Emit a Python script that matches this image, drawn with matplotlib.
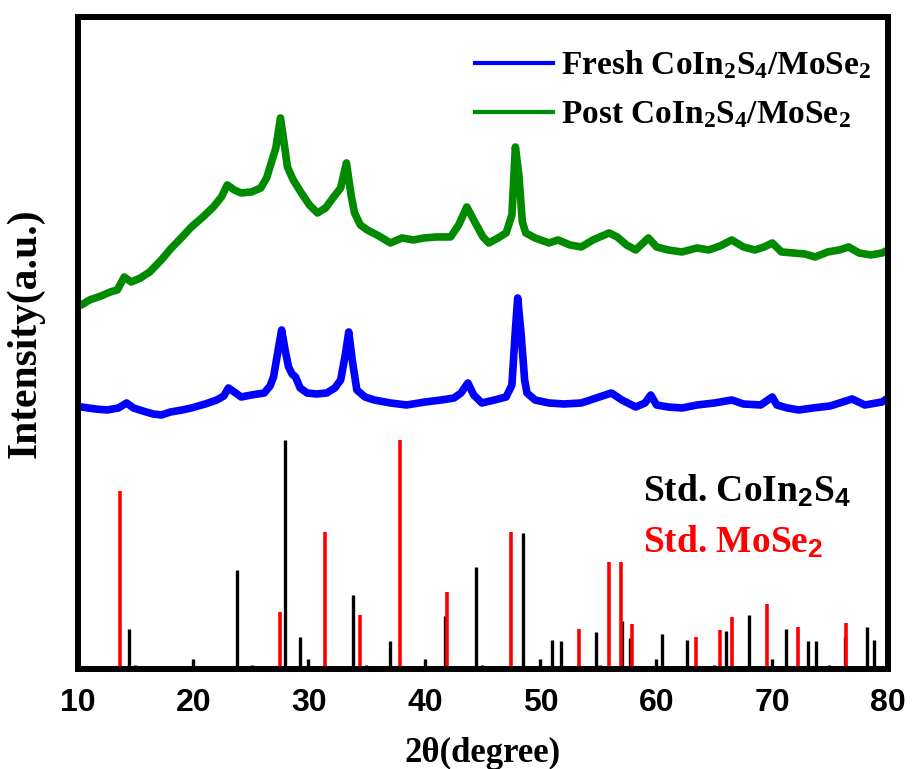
import matplotlib
matplotlib.use("Agg")
import matplotlib.pyplot as plt

# ── data (intensity in arbitrary units) ──────────────────────────────────
fresh_2theta = [10.0, 10.3, 11.5, 12.5, 13.5, 14.2, 14.8, 15.6, 16.5, 17.2, 18.0, 19.0,
                19.8, 21.0, 22.0, 22.6, 23.0, 23.5, 24.1, 25.0, 26.1, 26.6, 26.9, 27.3,
                27.6, 27.9, 28.2, 28.5, 28.8, 29.2, 29.8, 30.6, 31.5, 32.2, 32.7, 33.1,
                33.4, 33.7, 34.1, 34.8, 35.6, 37.0, 38.4, 40.0, 41.4, 42.5, 43.1, 43.7,
                44.2, 44.9, 46.0, 47.0, 47.5, 47.8, 48.0, 48.3, 48.6, 48.8, 49.5, 50.7,
                52.0, 53.5, 54.8, 56.1, 57.0, 58.2, 59.0, 59.5, 60.0, 61.0, 62.2, 63.5,
                65.0, 66.5, 67.5, 69.0, 70.0, 70.4, 71.3, 72.3, 73.5, 75.0, 76.9, 78.0,
                79.5, 80.0]
fresh_int = [262, 262, 260, 259, 261, 266, 261, 258, 255, 254, 257, 259,
             261, 265, 269, 273, 281, 277, 272, 274, 276, 283, 292, 319,
             339, 319, 302, 295, 292, 281, 276, 275, 276, 281, 289, 314,
             337, 309, 279, 272, 269, 266, 264, 267, 269, 271, 276, 286,
             274, 266, 269, 272, 284, 339, 371, 334, 289, 276, 269, 266,
             265, 266, 271, 276, 269, 262, 266, 274, 264, 262, 261, 264,
             266, 269, 265, 264, 272, 264, 261, 259, 261, 263, 270, 264,
             267, 271]

post_2theta = [10.0, 10.3, 11.0, 12.0, 12.8, 13.4, 14.0, 14.6, 15.4, 16.2, 17.2, 18.0,
               19.0, 19.8, 20.8, 21.7, 22.4, 22.9, 23.5, 24.1, 25.0, 25.8, 26.3, 26.7,
               27.1, 27.5, 27.9, 28.1, 28.6, 29.3, 30.0, 30.7, 31.4, 32.1, 32.7, 33.2,
               33.6, 33.9, 34.4, 35.0, 36.0, 37.0, 38.0, 39.0, 39.9, 41.0, 42.2, 42.9,
               43.6, 44.2, 45.0, 45.5, 46.3, 47.0, 47.5, 47.8, 48.1, 48.4, 48.7, 49.5,
               50.7, 51.5, 52.5, 53.5, 54.5, 55.3, 55.9, 56.6, 57.4, 58.2, 59.3, 60.0,
               61.0, 62.2, 63.5, 64.5, 65.5, 66.5, 67.5, 68.5, 69.3, 70.0, 70.8, 71.8,
               72.8, 73.7, 74.8, 75.8, 76.6, 77.5, 78.5, 79.5, 80.0]
post_int = [364, 364, 369, 373, 377, 379, 392, 387, 391, 397, 409, 420,
            432, 442, 452, 462, 472, 484, 479, 476, 477, 481, 491, 506,
            521, 551, 519, 502, 489, 476, 464, 456, 461, 472, 481, 506,
            474, 456, 444, 439, 433, 426, 431, 429, 431, 432, 432, 444,
            462, 449, 432, 426, 431, 436, 454, 522, 494, 447, 436, 431,
            426, 429, 424, 422, 429, 433, 436, 432, 424, 419, 431, 422,
            419, 417, 421, 419, 423, 429, 422, 419, 422, 426, 417, 416,
            415, 412, 417, 419, 422, 416, 414, 416, 419]

# standard patterns (peak position, relative height)
coin2s4_pos = [14.4, 14.9, 19.9, 23.7, 25.0, 27.9, 29.2, 29.9, 33.8, 34.9, 36.95, 40.0,
               41.7, 44.4, 44.9, 48.5, 49.9, 51.0, 51.75, 54.8, 55.1, 57.0, 57.7, 59.95,
               60.5, 62.6, 65.0, 66.0, 68.0, 70.0, 71.2, 73.1, 73.8, 74.9, 76.3, 78.2,
               78.8]
coin2s4_int = [40, 4, 10, 99, 4, 229, 32, 10, 74, 4, 28, 10,
               53, 102, 4, 136, 10, 29, 28, 37, 4, 48, 31, 10,
               35, 29, 4, 38, 54, 10, 40, 28, 28, 4, 32, 42,
               29]
mose2_pos = [13.63, 27.5, 31.35, 34.4, 37.8, 41.9, 47.4, 53.3, 55.85, 56.9, 57.9, 63.4,
             65.5, 66.5, 69.55, 72.2, 76.35]
mose2_int = [178, 57, 137, 54, 229, 77, 137, 40, 107, 107, 45, 32,
             39, 52, 65, 42, 46]

xticks = [10, 20, 30, 40, 50, 60, 70, 80]

BLUE, GREEN, RED = "#0000FF", "#008A00", "#FF0000"
SERIF = "Liberation Serif"

plt.rcParams["mathtext.fontset"] = "custom"
plt.rcParams["mathtext.rm"] = "Liberation Serif:bold"
plt.rcParams["mathtext.bf"] = "Liberation Serif:bold"
plt.rcParams["mathtext.it"] = "Liberation Serif:bold"
plt.rcParams["mathtext.sf"] = "Liberation Sans:bold"
plt.rcParams["mathtext.default"] = "bf"

fig = plt.figure(figsize=(9.13, 7.69), dpi=100)
ax = fig.add_axes([0.0854, 0.130, 0.8872, 0.848])

ax.plot(fresh_2theta, fresh_int, color=BLUE, lw=5.5,
        label="Fresh CoIn$_2$S$_4$/MoSe$_2$")
ax.plot(post_2theta, post_int, color=GREEN, lw=5.5,
        label="Post CoIn$_2$S$_4$/MoSe$_2$")

ax.vlines(coin2s4_pos, 0, coin2s4_int, color="black", lw=2.4)
ax.vlines(mose2_pos, 0, mose2_int, color=RED, lw=2.6)

ax.text(0.697, 0.256, r"Std. CoIn$_\mathsf{2}$S$_\mathsf{4}$", transform=ax.transAxes,
        fontsize=27, fontweight="bold", family=SERIF, color="black")
ax.text(0.697, 0.179, r"Std. MoSe$_\mathsf{2}$", transform=ax.transAxes,
        fontsize=27, fontweight="bold", family=SERIF, color=RED)

ax.set_xlim(10, 80)
ax.set_ylim(0, 652)
ax.set_xticks(xticks)
ax.set_yticks([])
ax.tick_params(axis="x", length=0, pad=14)
for lab in ax.get_xticklabels():
    lab.set_fontfamily("Liberation Sans")
    lab.set_fontweight("bold")
    lab.set_fontsize(23)

for sp in ax.spines.values():
    sp.set_linewidth(4.3)

ax.set_xlabel("2θ(degree)", fontsize=25, fontweight="bold", family=SERIF, labelpad=13)
ax.set_ylabel("Intensity(a.u.)", fontsize=30, fontweight="bold", family=SERIF)
ax.yaxis.set_label_coords(-0.041, 0.515)

leg = ax.legend(loc="upper right", bbox_to_anchor=(0.996, 0.972), frameon=False,
                handlelength=2.35, handletextpad=0.25, labelspacing=0.55,
                borderaxespad=0.0,
                prop={"family": SERIF, "weight": "bold", "size": 24})
for h in leg.get_lines():
    h.set_linewidth(3)

plt.savefig("out.png", dpi=100)
plt.close()
